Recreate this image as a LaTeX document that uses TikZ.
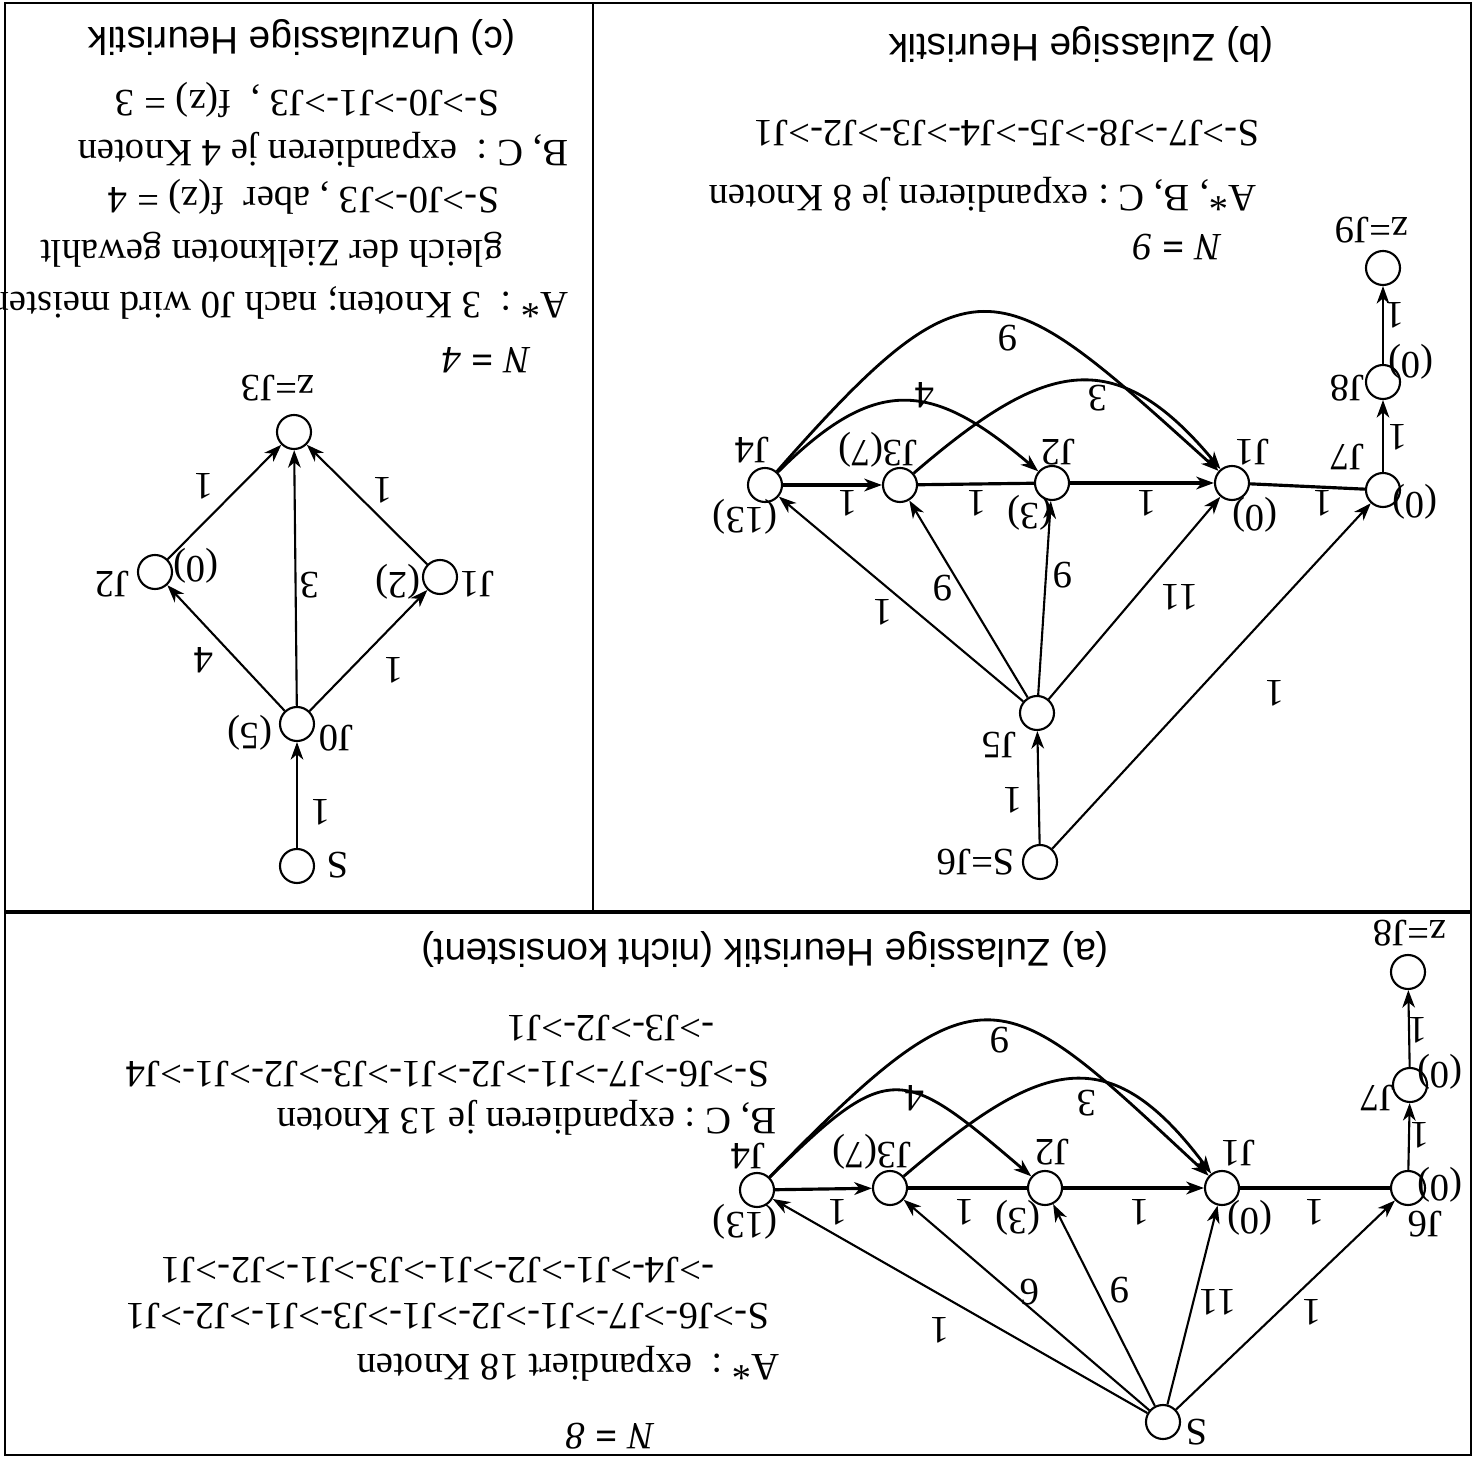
\documentclass[tikz,border=0pt]{standalone}
\usepackage{fontspec}
\setmainfont{Liberation Serif}
\setsansfont{Liberation Sans}
\usetikzlibrary{arrows.meta}

\begin{document}
\begin{tikzpicture}[x=0.01cm,y=-0.01cm,>={Stealth[length=5pt,width=3.6pt,inset=1.5pt]},
  font=\fontsize{11}{13}\selectfont,
  knot/.style={circle,draw,line width=0.6pt,minimum size=0.34cm,inner sep=0pt},
  txt/.style={rotate=180,inner sep=0pt},
  lbl/.style={rotate=180,inner sep=0pt},
  headline/.style={rotate=180,inner sep=0pt,font=\sffamily\fontsize{11}{13}\selectfont},
  link/.style={->,line width=0.6pt},
  heavy/.style={line width=0.9pt},
  bow/.style={->,line width=0.8pt}]
  \useasboundingbox (0,0) rectangle (1481,1461);
  % frame
  \draw[line width=0.8pt] (5,3) rectangle (1471,1455);
  \draw[line width=0.9pt] (5,912) -- (1471,912);
  \draw[line width=0.8pt] (593,3) -- (593,912);

  % (c) text
  \node[headline] (cCap) at (302,38) {(c) Unzulassige Heuristik};
  \node[txt,anchor=west] (cP2) at (500,100) {S->J0->J1->J3 ,\ \ f(z) = 3};
  \node[txt,anchor=west] (cB) at (569,150) {B, C :\ \ expandieren je 4 Knoten};
  \node[txt,anchor=west] (cP1) at (500,197) {S->J0->J3 , aber\ \ f(z) = 4};
  \node[txt,anchor=west] (cA2) at (504,250) {gleich der Zielknoten gewahlt};
  \node[txt,anchor=west] (cA) at (569,303) {A* :\ \ 3 Knoten; nach J0 wird meistens};
  \node[txt,anchor=west] (cN) at (531,360) {\textit{N} \textbf{=} \textit{4}};

  % (c) graph
  \node[knot] (cS) at (297,866) {};
  \node[knot] (cJ0) at (297,724) {};
  \node[knot] (cJ1) at (440,577) {};
  \node[knot] (cJ2) at (155,572) {};
  \node[knot] (cJ3) at (294,432) {};
  \node[lbl] (cSl) at (338,865) {S};
  \node[lbl] (cJ0l) at (336,738) {J0};
  \node[lbl] (cJ0h) at (250,733) {(5)};
  \node[lbl] (cJ1l) at (477,584) {J1};
  \node[lbl] (cJ1h) at (398,582) {(2)};
  \node[lbl] (cJ2l) at (112,584) {J2};
  \node[lbl] (cJ2h) at (196,566) {(0)};
  \node[lbl] (cJ3l) at (278,388) {z=J3};
  \draw[link] (cS) -- (cJ0);
  \draw[link] (cJ0) -- (cJ1);
  \draw[link] (cJ0) -- (cJ2);
  \draw[link] (cJ0) -- (cJ3);
  \draw[link] (cJ1) -- (cJ3);
  \draw[link] (cJ2) -- (cJ3);
  \node[lbl] (cw1) at (321,812) {1};
  \node[lbl] (cw2) at (394,670) {1};
  \node[lbl] (cw3) at (204,660) {4};
  \node[lbl] (cw4) at (310,585) {3};
  \node[lbl] (cw5) at (383,490) {1};
  \node[lbl] (cw6) at (204,486) {1};

  % (b) text
  \node[headline] (bCap) at (1081,45) {(b) Zulassige Heuristik};
  \node[txt,anchor=west] (bP) at (1260,133) {S->J7->J8->J5->J4->J3->J2->J1};
  \node[txt,anchor=west] (bA) at (1257,195) {A*, B, C : expandieren je 8 Knoten};
  \node[txt,anchor=west] (bN) at (1222,247) {\textit{N} \textbf{=} \textit{9}};

  % (b) graph
  \node[knot] (bS) at (1040,862) {};
  \node[knot] (bJ5) at (1037,713) {};
  \node[knot] (bJ7) at (1383,490) {};
  \node[knot] (bJ8) at (1383,382) {};
  \node[knot] (bJ9) at (1383,268) {};
  \node[knot] (bJ1) at (1232,483) {};
  \node[knot] (bJ2) at (1052,483) {};
  \node[knot] (bJ3) at (900,485) {};
  \node[knot] (bJ4) at (765,485) {};
  \node[lbl] (bSl) at (976,862) {S=J6};
  \node[lbl] (bJ5l) at (999,745) {J5};
  \node[lbl] (bJ7l) at (1347,457) {J7};
  \node[lbl] (bJ7h) at (1415,502) {(0)};
  \node[lbl] (bJ8l) at (1347,388) {J8};
  \node[lbl] (bJ8h) at (1411,362) {(0)};
  \node[lbl] (bJ9l) at (1372,230) {z=J9};
  \node[lbl] (bJ1l) at (1252,452) {J1};
  \node[lbl] (bJ1h) at (1255,515) {(0)};
  \node[lbl] (bJ2l) at (1058,452) {J2};
  \node[lbl] (bJ2h) at (1030,513) {(3)};
  \node[lbl] (bJ3l) at (878,450) {J3(7)};
  \node[lbl] (bJ4l) at (752,450) {J4};
  \node[lbl] (bJ4h) at (745,517) {(13)};
  \draw[link] (bS) -- (bJ5);
  \draw[link] (bS) -- (bJ7);
  \draw[link] (bJ5) -- (bJ4);
  \draw[link] (bJ5) -- (bJ3);
  \draw[link] (bJ5) -- (bJ2);
  \draw[link] (bJ5) -- (bJ1);
  \draw[heavy,->] (bJ4) -- (bJ3);
  \draw[heavy] (bJ3) -- (bJ2);
  \draw[heavy,->] (bJ2) -- (bJ1);
  \draw[heavy] (bJ1) -- (bJ7);
  \draw[link] (bJ7) -- (bJ8);
  \draw[link] (bJ8) -- (bJ9);
  \draw[bow] (bJ4) .. controls (877,373) and (933,382) .. (bJ2);
  \draw[bow] (bJ3) .. controls (1042,363) and (1113,340) .. (bJ1);
  \draw[bow] (bJ4) .. controls (975,246) and (999,273) .. (bJ1);
  \node[lbl] (bw1) at (1013,800) {1};
  \node[lbl] (bw2) at (1275,693) {1};
  \node[lbl] (bw3) at (883,612) {1};
  \node[lbl] (bw4) at (943,588) {9};
  \node[lbl] (bw5) at (1063,575) {9};
  \node[lbl] (bw6) at (1180,597) {11};
  \node[lbl] (bw7) at (848,503) {1};
  \node[lbl] (bw8) at (977,503) {1};
  \node[lbl] (bw9) at (1147,503) {1};
  \node[lbl] (bw10) at (1323,503) {1};
  \node[lbl] (bw11) at (1398,437) {1};
  \node[lbl] (bw12) at (1395,315) {1};
  \node[lbl] (bw13) at (925,395) {4};
  \node[lbl] (bw14) at (1098,398) {3};
  \node[lbl] (bw15) at (1008,338) {9};

  % (a) text
  \node[headline] (aCap) at (765,950) {(a) Zulassige Heuristik (nicht konsistent)};
  \node[txt,anchor=west] (aP4) at (715,1028) {->J3->J2->J1};
  \node[txt,anchor=west] (aP3) at (770,1074) {S->J6->J7->J1->J2->J1->J3->J2->J1->J4};
  \node[txt,anchor=west] (aB) at (777,1118) {B, C : expandieren je 13 Knoten};
  \node[txt,anchor=west] (aP2) at (715,1270) {->J4->J1->J2->J1->J3->J1->J2->J1};
  \node[txt,anchor=west] (aP1) at (770,1316) {S->J6->J7->J1->J2->J1->J3->J1->J2->J1};
  \node[txt,anchor=west] (aA) at (780,1364) {A* :\ \ expandiert 18 Knoten};
  \node[txt,anchor=west] (aN) at (655,1436) {\textit{N} \textbf{=} \textit{8}};

  % (a) graph
  \node[knot] (aS) at (1163,1422) {};
  \node[knot] (aJ6) at (1408,1188) {};
  \node[knot] (aJ7) at (1410,1085) {};
  \node[knot] (aJ8) at (1408,972) {};
  \node[knot] (aJ1) at (1222,1188) {};
  \node[knot] (aJ2) at (1045,1188) {};
  \node[knot] (aJ3) at (890,1188) {};
  \node[knot] (aJ4) at (757,1190) {};
  \node[lbl] (aSl) at (1197,1432) {S};
  \node[lbl] (aJ6l) at (1425,1224) {J6};
  \node[lbl] (aJ6h) at (1440,1185) {(0)};
  \node[lbl] (aJ7l) at (1377,1098) {J7};
  \node[lbl] (aJ7h) at (1440,1072) {(0)};
  \node[lbl] (aJ8l) at (1410,933) {z=J8};
  \node[lbl] (aJ1l) at (1238,1153) {J1};
  \node[lbl] (aJ1h) at (1250,1218) {(0)};
  \node[lbl] (aJ2l) at (1052,1152) {J2};
  \node[lbl] (aJ2h) at (1018,1218) {(3)};
  \node[lbl] (aJ3l) at (872,1152) {J3(7)};
  \node[lbl] (aJ4l) at (748,1156) {J4};
  \node[lbl] (aJ4h) at (745,1222) {(13)};
  \draw[link] (aS) -- (aJ6);
  \draw[link] (aS) -- (aJ1);
  \draw[link] (aS) -- (aJ2);
  \draw[link] (aS) -- (aJ3);
  \draw[link] (aS) -- (aJ4);
  \draw[heavy,->] (aJ4) -- (aJ3);
  \draw[heavy] (aJ3) -- (aJ2);
  \draw[heavy,->] (aJ2) -- (aJ1);
  \draw[heavy] (aJ1) -- (aJ6);
  \draw[link] (aJ6) -- (aJ7);
  \draw[link] (aJ7) -- (aJ8);
  \draw[bow] (aJ4) .. controls (890,1058) and (902,1066) .. (aJ2);
  \draw[bow] (aJ3) .. controls (1040,1060) and (1108,1036) .. (aJ1);
  \draw[bow] (aJ4) .. controls (985,956) and (1000,982) .. (aJ1);
  \node[lbl] (aw1) at (1312,1312) {1};
  \node[lbl] (aw2) at (1218,1302) {11};
  \node[lbl] (aw3) at (1120,1290) {9};
  \node[lbl] (aw4) at (1030,1292) {6};
  \node[lbl] (aw5) at (940,1330) {1};
  \node[lbl] (aw6) at (838,1212) {1};
  \node[lbl] (aw7) at (965,1212) {1};
  \node[lbl] (aw8) at (1140,1212) {1};
  \node[lbl] (aw9) at (1315,1212) {1};
  \node[lbl] (aw10) at (1420,1135) {1};
  \node[lbl] (aw11) at (1418,1030) {1};
  \node[lbl] (aw12) at (915,1098) {4};
  \node[lbl] (aw13) at (1087,1103) {3};
  \node[lbl] (aw14) at (1000,1040) {9};
\end{tikzpicture}
\end{document}
